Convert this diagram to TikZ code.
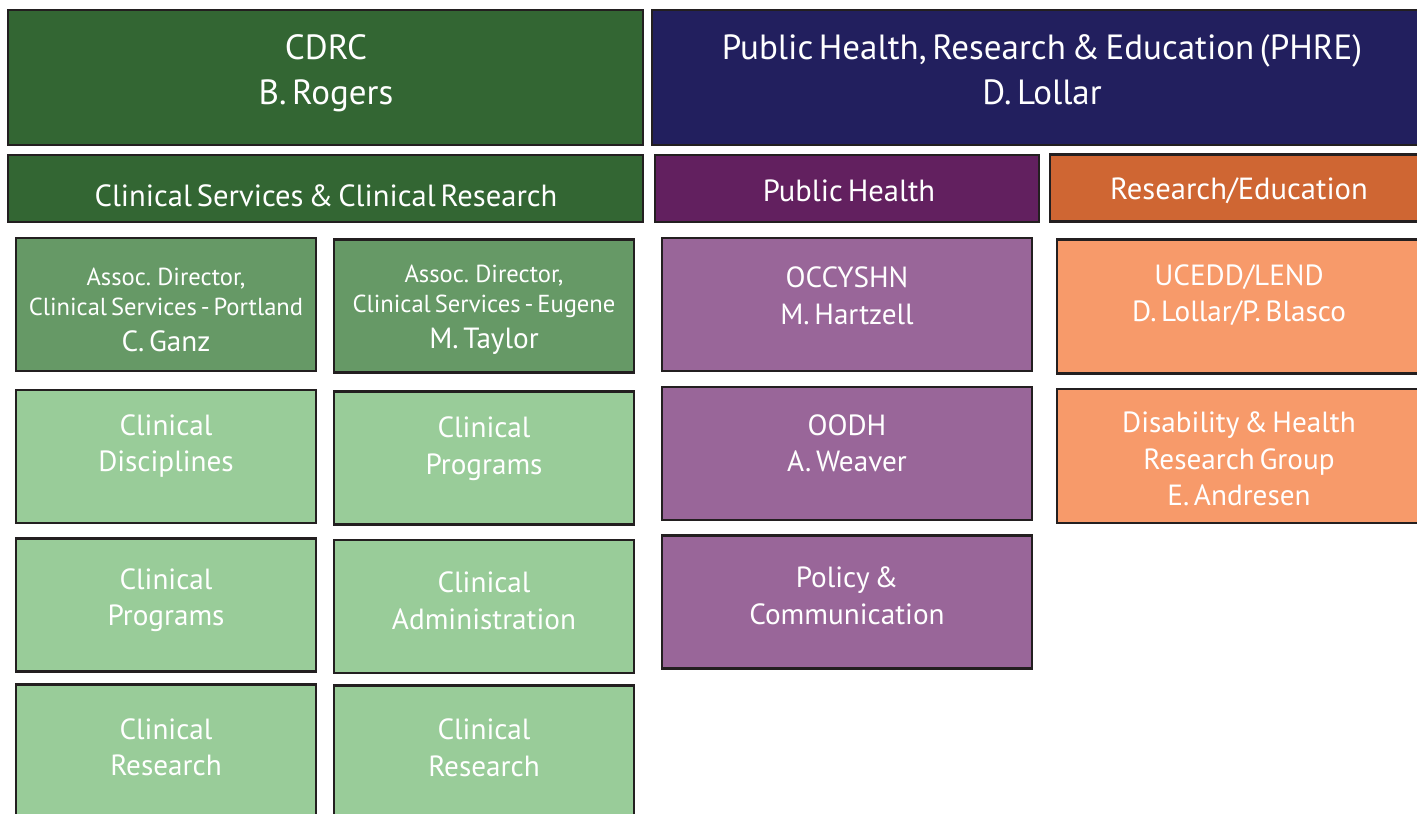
\documentclass[tikz,border=0pt]{standalone}
\usepackage{fontspec}
\setmainfont{PT Sans}[WordSpace=0.6]
\usetikzlibrary{positioning}

\definecolor{edgegray}{HTML}{231F20}
\definecolor{cdrcgreen}{HTML}{336633}
\definecolor{phrenavy}{HTML}{221F5E}
\definecolor{phpurple}{HTML}{62205F}
\definecolor{reorange}{HTML}{CF6633}
\definecolor{assocgreen}{HTML}{669966}
\definecolor{cellgreen}{HTML}{99CC99}
\definecolor{cellpurple}{HTML}{996699}
\definecolor{cellorange}{HTML}{F79A6A}

\newcommand{\headfont}{\fontsize{17.5}{22.5}\selectfont}
\newcommand{\divfont}{\fontsize{15.3}{20}\selectfont}
\newcommand{\cellfont}{\fontsize{14.6}{18.25}\selectfont}
\newcommand{\assocfont}{\fontsize{12.3}{15}\selectfont}

\tikzset{
    box/.style={draw=edgegray, line width=1.25pt, inner sep=0pt, outer sep=0pt},
    topbox/.style={box, minimum height=67.5pt},
    midbox/.style={box, minimum height=33.5pt},
    cell/.style={box, minimum width=150pt, minimum height=66.5pt},
    pcell/.style={box, minimum width=185pt, minimum height=66.5pt, fill=cellpurple},
    ocell/.style={box, minimum width=182pt, minimum height=67pt, fill=cellorange},
    txt/.style={text=white, align=center, inner sep=0pt, font=\cellfont},
    bigtxt/.style={txt, font=\headfont},
    divtxt/.style={txt, font=\divfont}
}

\begin{document}
\begin{tikzpicture}[x=0.5pt, y=-0.5pt]
    \useasboundingbox (0,0) rectangle (1417,813);
    \clip (0,0) rectangle (1417,813);

    % Top level
    \node[topbox, fill=cdrcgreen, minimum width=317.5pt] (cdrc) at (325.5,77.5) {};
    \node[topbox, fill=phrenavy, minimum width=390.5pt] (phre) at (1042.5,77.5) {};
    \node[bigtxt] (cdrcT) at (326,73) {CDRC\\B. Rogers};
    \node[bigtxt] (phreT) at (1042,70) {Public Health, Research \& Education (PHRE)\\D. Lollar};

    % Divisions
    \node[midbox, fill=cdrcgreen, minimum width=317.5pt] (css) at (325.5,188.5) {};
    \node[midbox, fill=phpurple, minimum width=192pt] (ph) at (847,188.5) {};
    \node[midbox, fill=reorange, minimum width=189pt] (re) at (1239,188) {};
    \node[divtxt] (cssT) at (326,196) {Clinical Services \& Clinical Research};
    \node[divtxt] (phT) at (849,191) {Public Health};
    \node[divtxt] (reT) at (1239,191) {Research/Education};

    % Clinical services: associate directors
    \node[cell, fill=assocgreen] (adpdx) at (166,304.5) {};
    \node[cell, fill=assocgreen] (adeug) at (484,306) {};
    \node[txt, font=\assocfont] (adpdxT) at (166,310)
        {Assoc. Director,\\Clinical Services - Portland\\[3pt]{\cellfont C. Ganz}};
    \node[txt, font=\assocfont] (adeugT) at (484,310)
        {Assoc. Director,\\Clinical Services - Eugene\\[3pt]{\cellfont M. Taylor}};

    % Clinical services: units (left and right columns)
    \node[cell, fill=cellgreen] (cdisc) at (166,456.5) {};
    \node[cell, fill=cellgreen] (cprogL) at (166,605) {};
    \node[cell, fill=cellgreen] (cresL) at (166,751) {};
    \node[cell, fill=cellgreen] (cprogR) at (484,458) {};
    \node[cell, fill=cellgreen] (cadmin) at (484,606.5) {};
    \node[cell, fill=cellgreen] (cresR) at (484,752) {};
    \node[txt] (cdiscT) at (166,446) {Clinical\\Disciplines};
    \node[txt] (cprogLT) at (166,600) {Clinical\\Programs};
    \node[txt] (cresLT) at (166,747.5) {Clinical\\Research};
    \node[txt] (cprogRT) at (484,448.5) {Clinical\\Programs};
    \node[txt] (cadminT) at (484,601) {Clinical\\Administration};
    \node[txt] (cresRT) at (484,748) {Clinical\\Research};

    % Public health offices
    \node[pcell] (occ) at (847,304.5) {};
    \node[pcell] (oodh) at (847,453.5) {};
    \node[pcell] (pol) at (847,602) {};
    \node[txt] (occT) at (847,296) {OCCYSHN\\M. Hartzell};
    \node[txt] (oodhT) at (847,443.5) {OODH\\A. Weaver};
    \node[txt] (polT) at (847,596) {Policy \&\\Communication};

    % Research and education groups
    \node[ocell] (ucedd) at (1239,306.5) {};
    \node[ocell] (dhrg) at (1239,456) {};
    \node[txt] (uceddT) at (1239,295) {UCEDD/LEND\\D. Lollar/P. Blasco};
    \node[txt] (dhrgT) at (1239,459) {Disability \& Health\\Research Group\\E. Andresen};
\end{tikzpicture}
\end{document}
